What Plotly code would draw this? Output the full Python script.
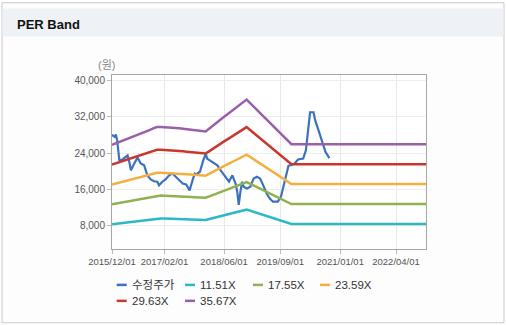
import pandas as pd
import plotly.graph_objects as go

# ---- data -------------------------------------------------------------
# Adjusted share price (수정주가)
price_dates = [
    "2015-12-01", "2015-12-08", "2015-12-22", "2016-01-02", "2016-01-12", "2016-01-30",
    "2016-02-25", "2016-03-23", "2016-04-06", "2016-04-20", "2016-05-03", "2016-05-30",
    "2016-06-26", "2016-07-22", "2016-08-19", "2016-09-14", "2016-10-11", "2016-11-08",
    "2016-12-04", "2016-12-18", "2017-01-14", "2017-02-09", "2017-03-10", "2017-04-06",
    "2017-05-04", "2017-06-01", "2017-06-29", "2017-07-27", "2017-08-24", "2017-09-21",
    "2017-10-05", "2017-10-18", "2017-11-16", "2017-12-13", "2018-01-03", "2018-01-13",
    "2018-02-24", "2018-04-07", "2018-05-04", "2018-06-14", "2018-07-11", "2018-08-07",
    "2018-09-02", "2018-09-16", "2018-09-28", "2018-10-12", "2018-10-25", "2018-11-07",
    "2018-12-04", "2019-01-01", "2019-01-27", "2019-02-23", "2019-03-21", "2019-04-16",
    "2019-05-13", "2019-06-08", "2019-07-04", "2019-08-13", "2019-09-07", "2019-10-04",
    "2019-10-24", "2019-11-07", "2019-12-02", "2019-12-27", "2020-01-24", "2020-03-06",
    "2020-03-28", "2020-04-17", "2020-05-01", "2020-05-29", "2020-06-12", "2020-07-09",
    "2020-08-07", "2020-09-03", "2020-10-05",
]
price_values = [
    27700, 27900, 27600, 28100, 26800, 22400,
    22600, 23200, 23500, 22100, 20200, 21700,
    23000, 21700, 21300, 19100, 18200, 17800,
    17700, 16900, 17700, 18200, 19100, 19500,
    18800, 18000, 17300, 17100, 15800, 18400,
    19500, 19300, 19900, 22400, 23900, 22800,
    22100, 21300, 20200, 18800, 17700, 19100,
    17300, 15500, 12600, 15500, 17700, 16600,
    16200, 16600, 18400, 18800, 18400, 16900,
    15100, 14000, 13300, 13300, 14400, 17400,
    19800, 21200, 21400, 21700, 22600, 22800,
    24600, 29700, 33000, 33000, 31200, 29000,
    26400, 24300, 22900,
]

# Monthly EPS used for the PER bands (2015/12 .. 2019/12, then held flat)
eps_dates = list(pd.date_range("2015-12-01", "2019-12-01", freq="MS").strftime("%Y-%m-%d")) + ["2022-12-01"]
eps_values = [
    724,
    733, 742, 750, 758, 767, 776, 785, 795, 805, 815, 825, 834,
    834, 833, 832, 830, 828, 826, 823, 820, 817, 814, 811, 808,
    807, 825, 843, 861, 879, 897, 914, 932, 950, 968, 986, 1003,
    980, 957, 934, 911, 888, 866, 843, 820, 797, 774, 751, 728,
    728,
]

band_multiples = [11.51, 17.55, 23.59, 29.63, 35.67]
band_names = ["11.51X", "17.55X", "23.59X", "29.63X", "35.67X"]

series_names = ["수정주가"] + band_names
series_colors = ["#3b72c0", "#2cb8c6", "#8fb14f", "#f4b03f", "#c8382e", "#9a5fa8"]

x_tick_dates = ["2015-12-01", "2017-02-01", "2018-06-01", "2019-09-01", "2021-01-01", "2022-04-01"]
y_tick_values = [8000, 16000, 24000, 32000, 40000]

# ---- figure -----------------------------------------------------------
FONT = "Liberation Sans, Arial, Noto Sans CJK KR, sans-serif"
W, H = 506, 325
L, R, T, B = 112, 80, 74.5, 76
PW, PH = W - L - R, H - T - B


def px(x):
    return (x - L) / PW


def py(y):
    return (H - B - y) / PH


fig = go.Figure()

fig.add_trace(go.Scatter(
    x=price_dates, y=price_values, mode="lines", name=series_names[0],
    line=dict(color=series_colors[0], width=2.2),
))
for i, (m, name) in enumerate(zip(band_multiples, band_names)):
    fig.add_trace(go.Scatter(
        x=eps_dates, y=[e * m for e in eps_values], mode="lines", name=name,
        line=dict(color=series_colors[i + 1], width=2.5),
    ))

shapes = [
    # panel frame
    dict(type="rect", xref="paper", yref="paper", x0=px(2), x1=px(504), y0=py(323), y1=py(2),
         line=dict(color="#c9c9c9", width=1), fillcolor="#fdfdfe", layer="below"),
    # header strip
    dict(type="rect", xref="paper", yref="paper", x0=px(2.5), x1=px(503.5), y0=py(36), y1=py(7.7),
         line=dict(width=0), fillcolor="#eef1f6", layer="below"),
    # plot background
    dict(type="rect", xref="paper", yref="paper", x0=0, x1=1, y0=0, y1=1,
         line=dict(width=0), fillcolor="#ffffff", layer="below"),
]

annotations = [
    dict(text="<b>PER Band</b>", xref="paper", yref="paper", x=px(15), y=py(24),
         xanchor="left", yanchor="middle", showarrow=False,
         font=dict(family=FONT, size=13, color="#111111")),
    dict(text="(원)", xref="paper", yref="paper", x=px(106.5), y=py(64),
         xanchor="center", yanchor="middle", showarrow=False,
         font=dict(family=FONT, size=11, color="#888888")),
]

# legend laid out in two rows beneath the plot
legend_slots = [(116.7, 285), (185, 285), (253, 285), (320, 285), (116.7, 301), (185, 301)]
for (lx, ly), name, color in zip(legend_slots, series_names, series_colors):
    shapes.append(dict(type="line", xref="paper", yref="paper",
                       x0=px(lx), x1=px(lx + 10), y0=py(ly), y1=py(ly),
                       line=dict(color=color, width=2.5)))
    annotations.append(dict(text=name, xref="paper", yref="paper", x=px(lx + 13), y=py(ly),
                            xanchor="left", yanchor="middle", showarrow=False,
                            font=dict(family=FONT, size=11.5, color="#333333")))

fig.update_layout(
    width=W, height=H,
    margin=dict(l=L, r=R, t=T, b=B, pad=0),
    paper_bgcolor="#ffffff", plot_bgcolor="#ffffff",
    showlegend=False,
    shapes=shapes, annotations=annotations,
    font=dict(family=FONT, size=10, color="#555555"),
)
fig.update_xaxes(
    type="date", range=["2015-12-01", "2022-12-01"],
    tickvals=x_tick_dates, tickformat="%Y/%m/%d",
    tickfont=dict(family=FONT, size=9.5, color="#555555"),
    showgrid=True, gridcolor="#e8e8e8", gridwidth=1,
    showline=True, linecolor="#a6a6a6", linewidth=1, mirror=True,
    ticks="outside", ticklen=4, tickcolor="#bbbbbb",
    zeroline=False,
)
fig.update_yaxes(
    range=[2880, 41200],
    tickvals=y_tick_values, tickformat=",d",
    tickfont=dict(family=FONT, size=10, color="#555555"),
    showgrid=True, gridcolor="#eeeeee", gridwidth=1,
    showline=True, linecolor="#a6a6a6", linewidth=1, mirror=True,
    ticks="outside", ticklen=4, tickcolor="#bbbbbb",
    zeroline=False,
)

fig.write_html("out.html")
